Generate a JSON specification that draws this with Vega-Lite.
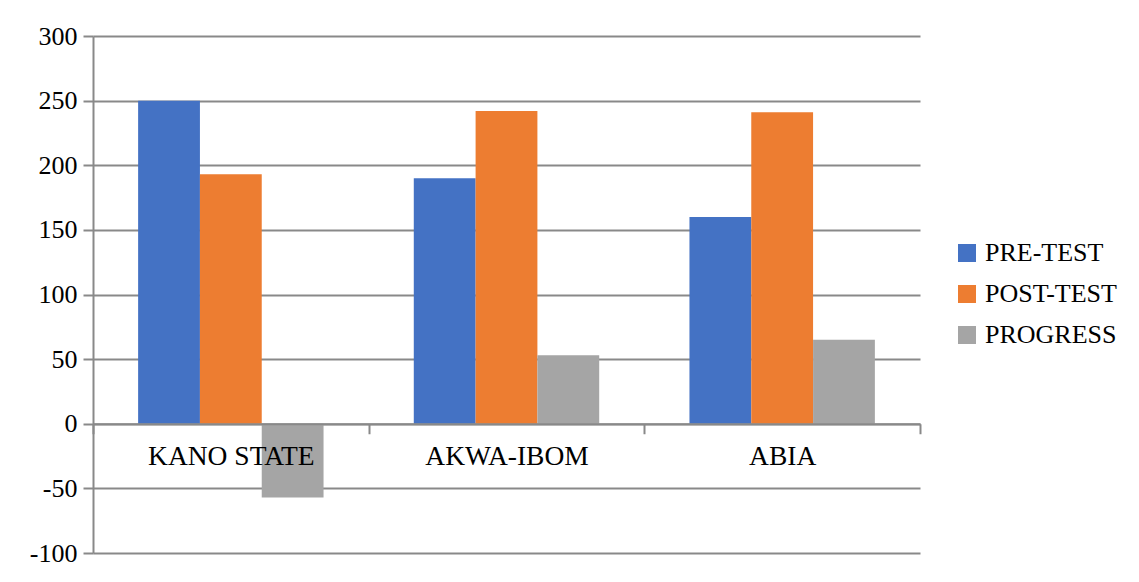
{
  "$schema": "https://vega.github.io/schema/vega-lite/v6.json",
  "autosize": "none",
  "width": 827,
  "height": 517,
  "padding": {"left": 93, "top": 36, "right": 219, "bottom": 29},
  "background": "white",
  "data": {
    "values": [
      {"state": "KANO STATE", "series": "PRE-TEST", "value": 250},
      {"state": "KANO STATE", "series": "POST-TEST", "value": 193},
      {"state": "KANO STATE", "series": "PROGRESS", "value": -57},
      {"state": "AKWA-IBOM", "series": "PRE-TEST", "value": 190},
      {"state": "AKWA-IBOM", "series": "POST-TEST", "value": 242},
      {"state": "AKWA-IBOM", "series": "PROGRESS", "value": 53},
      {"state": "ABIA", "series": "PRE-TEST", "value": 160},
      {"state": "ABIA", "series": "POST-TEST", "value": 241},
      {"state": "ABIA", "series": "PROGRESS", "value": 65}
    ]
  },
  "mark": {"type": "bar"},
  "encoding": {
    "x": {
      "field": "state",
      "type": "nominal",
      "sort": ["KANO STATE", "AKWA-IBOM", "ABIA"],
      "title": null,
      "scale": {"paddingInner": 0, "paddingOuter": 0},
      "axis": {
        "orient": "bottom",
        "offset": -129.25,
        "labelAngle": 0,
        "labelFontSize": 27.5,
        "tickBand": "extent",
        "tickSize": 10,
        "labelPadding": 9,
        "grid": false,
        "zindex": 1
      }
    },
    "xOffset": {
      "field": "series",
      "type": "nominal",
      "sort": ["PRE-TEST", "POST-TEST", "PROGRESS"],
      "scale": {"paddingInner": 0, "paddingOuter": 0.73}
    },
    "y": {
      "field": "value",
      "type": "quantitative",
      "title": null,
      "scale": {"domain": [-100, 300], "nice": false},
      "axis": {
        "values": [-100, -50, 0, 50, 100, 150, 200, 250, 300],
        "labelExpr": "'' + datum.value",
        "tickSize": 10,
        "labelPadding": 6,
        "grid": true,
        "zindex": 0
      }
    },
    "color": {
      "field": "series",
      "type": "nominal",
      "sort": ["PRE-TEST", "POST-TEST", "PROGRESS"],
      "scale": {
        "domain": ["PRE-TEST", "POST-TEST", "PROGRESS"],
        "range": ["#4472C4", "#ED7D31", "#A5A5A5"]
      },
      "legend": {
        "title": null,
        "orient": "none",
        "legendX": 861,
        "legendY": 204,
        "padding": 0,
        "symbolType": "square",
        "symbolSize": 324,
        "symbolStrokeWidth": 0,
        "labelOffset": 5,
        "rowPadding": 15
      }
    }
  },
  "config": {
    "view": {"stroke": null},
    "font": "Liberation Serif",
    "axis": {
      "domainColor": "#898989",
      "domainWidth": 2,
      "tickColor": "#898989",
      "tickWidth": 2,
      "gridColor": "#898989",
      "gridWidth": 2,
      "gridOpacity": 1,
      "labelFont": "Liberation Serif",
      "labelFontSize": 26,
      "labelColor": "black"
    },
    "legend": {
      "labelFont": "Liberation Serif",
      "labelFontSize": 26,
      "labelColor": "black",
      "labelLimit": 0
    }
  }
}
